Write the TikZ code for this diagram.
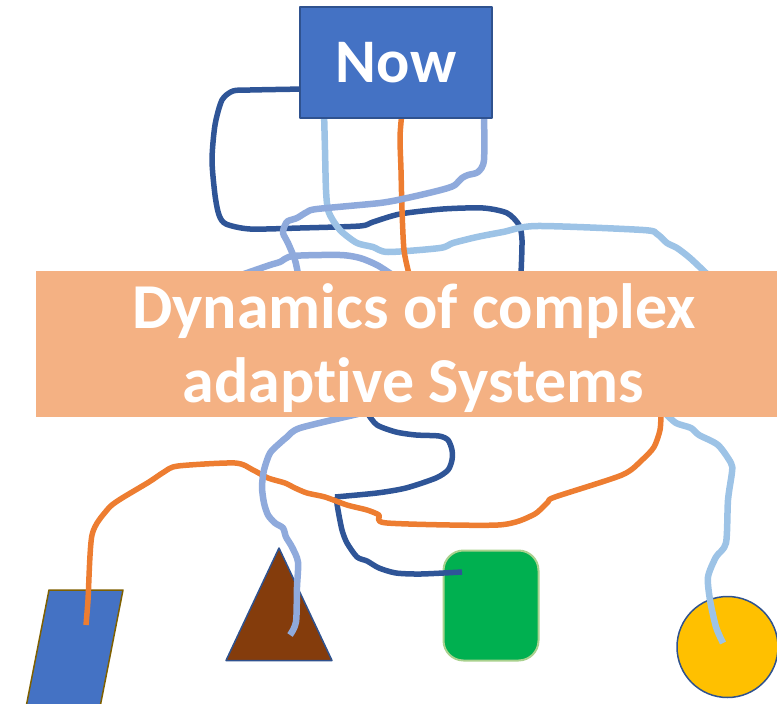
\documentclass[tikz,border=0pt]{standalone}
\usepackage{fontspec}
\setmainfont{Carlito}[Ligatures={NoCommon}]
\usetikzlibrary{shapes.geometric}
\definecolor{dkblue}{HTML}{2F5597}
\definecolor{ltblue}{HTML}{9DC3E6}
\definecolor{mdblue}{HTML}{8FAADC}
\definecolor{orng}{HTML}{ED7D31}
\definecolor{boxblue}{HTML}{4472C4}
\definecolor{boxedge}{HTML}{2F528F}
\definecolor{bannerc}{HTML}{F4B183}
\definecolor{olive}{HTML}{7F6000}
\definecolor{brownc}{HTML}{843C0C}
\definecolor{greenc}{HTML}{00B050}
\definecolor{greenedge}{HTML}{A9D18E}
\definecolor{yellowc}{HTML}{FFC000}
\begin{document}
\begin{tikzpicture}[x=1pt,y=-1pt,line join=round,
  darkwire/.style={draw=dkblue,line width=5.5pt},
  lightwire/.style={draw=ltblue,line width=6.5pt},
  midwire/.style={draw=mdblue,line width=6.5pt},
  orangewire/.style={draw=orng,line width=5.5pt},
  nowbox/.style={draw=boxedge,line width=1.5pt,fill=boxblue,text=white,inner sep=0pt,
    minimum width=192pt,minimum height=111pt,font=\fontsize{62}{62}\selectfont\bfseries},
  bannerbox/.style={fill=bannerc,inner sep=0pt,minimum width=756pt,minimum height=146pt},
  bannertxt/.style={text=white,inner sep=0pt,anchor=base,font=\fontsize{64}{64}\selectfont\bfseries},
  sm/.style={smooth,tension=0.45}]
\useasboundingbox (0,0) rectangle (777,704);
\clip (0,0) rectangle (777,704);
% shapes at the bottom
\draw[fill=boxblue,draw=olive,line width=1.5pt] (49,590) -- (123,590) -- (97.5,720) -- (23.5,720) -- cycle;
\coordinate (para) at (86,625);
\draw[fill=brownc,draw=boxedge,line width=1.5pt] (279,548) -- (332,660.5) -- (226,660.5) -- cycle;
\coordinate (tri) at (290,635);
\node[fill=greenc,draw=greenedge,line width=2pt,rounded corners=20pt,minimum width=95pt,minimum height=110pt,inner sep=0pt] (green) at (491,605.5) {};
\node[circle,fill=yellowc,draw=boxedge,line width=1.5pt,minimum size=101pt,inner sep=0pt] (circ) at (727.5,647) {};
% named wire ends
\coordinate (dbA) at (305,89);
\coordinate (dbB) at (521,274);
\coordinate (dbC) at (368,414);
\coordinate (dbD) at (462,572);
\coordinate (lbA) at (324,112);
\coordinate (lbB) at (708,275);
\coordinate (lbC) at (666,414);
\coordinate (circIn) at (723,643);
\coordinate (orA) at (402,112);
\coordinate (orB) at (409,274);
\coordinate (orC) at (661,414);
\coordinate (mbA) at (484,112);
\coordinate (mbB) at (298,274);
\coordinate (mbC) at (244,274);
\coordinate (mbD) at (391,274);
\coordinate (mbE) at (358,414);
% wires
\draw[darkwire] plot[sm] coordinates {(dbA) (250,90) (233,91) (222,100) (215,125) (212,160) (215,195) (219,215) (226,224) (250,229) (300,228) (360,226) (373,222) (400,214) (443,209) (483,208) (507,213) (519,225) (522,240) (dbB)};
\draw[darkwire] plot[sm] coordinates {(dbC) (377,425) (396,432) (416,435) (439,436) (448,440) (452,450) (452,460) (448,470) (436,478) (406,488) (377,493) (335,497)};
\draw[darkwire] plot[sm] coordinates {(336,497) (338,510) (342,530) (347,543) (357,557) (367,561) (379,568) (396,573) (421,574) (dbD)};
\draw[lightwire] plot[sm] coordinates {(lbA) (325,150) (326,190) (328,210) (334,222) (342,232) (357,243) (373,247) (388,252) (440,248) (453,243) (477,237) (503,232) (537,226) (643,230) (657,234) (667,243) (677,248) (690,258) (lbB)};
\draw[lightwire] plot[sm] coordinates {(lbC) (676,423) (691,428) (699,435) (718,445) (731,463) (732,472) (728,500) (726,543) (716,557) (708,577) (710,600) (716,627) (circIn)};
\draw[orangewire] plot[sm] coordinates {(orA) (400,137) (401,170) (402,210) (404,250) (orB)};
\draw[orangewire] plot[sm] coordinates {(orC) (660,430) (654,447) (642,460) (622,475) (555,497) (548,502) (533,515) (498,525) (387,523) (379,515) (367,510) (347,505) (325,497) (307,493) (295,488) (285,483) (268,478) (253,470) (235,463) (178,466) (164,472) (149,482) (119,500) (107,510) (92,535) (88,600) (para)};
\draw[midwire] plot[sm] coordinates {(mbA) (484,160) (478,172) (468,175) (462,178) (455,185) (448,188) (433,192) (407,198) (380,203) (317,209) (307,212) (297,218) (288,221) (285,225) (283,233) (288,243) (295,260) (mbB)};
\draw[midwire] plot[sm] coordinates {(mbC) (270,265) (280,262) (293,256) (340,255) (360,258) (377,265) (mbD)};
\draw[midwire] plot[sm] coordinates {(mbE) (300,428) (287,437) (280,443) (270,453) (264,470) (262,487) (264,503) (268,515) (275,523) (283,528) (286,537) (292,547) (298,562) (297,587) (296,622) (tri)};
% top boxes
\node[nowbox] (now) at (396,62.5) {Now};
\node[bannerbox] (banner) at (414,344) {};
\node[bannertxt] (bannerA) at (414,328) {Dynamics of complex};
\node[bannertxt] (bannerB) at (413.5,402) {adaptive Systems};
\end{tikzpicture}
\end{document}
